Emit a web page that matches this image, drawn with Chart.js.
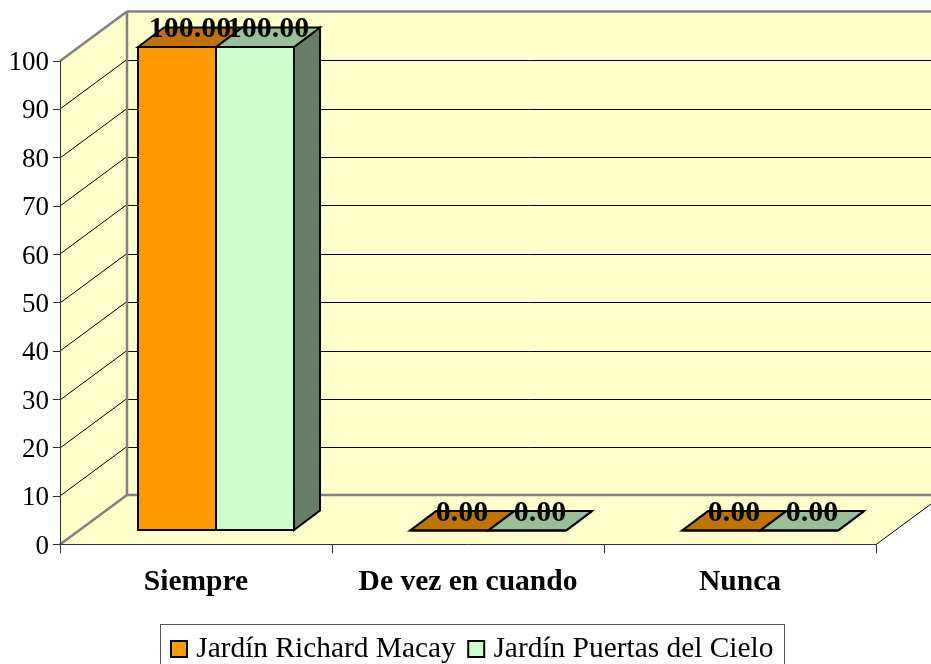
<!DOCTYPE html>
<html>
<head>
<meta charset="utf-8">
<style>html,body{margin:0;padding:0;background:#fff}canvas{display:block}</style>
<script src="https://cdn.jsdelivr.net/npm/chart.js@4"></script>
</head>
<body>
<canvas id="c" width="931" height="664"></canvas>
<script>
const categories = ['Siempre', 'De vez en cuando', 'Nunca'];
const richardMacay = [100, 0, 0];
const puertasDelCielo = [100, 0, 0];
const seriesNames = ['Jardín Richard Macay', 'Jardín Puertas del Cielo'];
const yTicks = [0, 10, 20, 30, 40, 50, 60, 70, 80, 90, 100];

const SERIF = '"Liberation Serif", "Times New Roman", serif';
const WALL = '#FFFFCC', EDGE = '#808080', AXIS = '#333333';
const DEPTH_X = 67, DEPTH_Y = 49.5;       // room depth
const BAR_X = 20, BAR_Y = 14;             // bars sit inside the room
const CAP_X = 26, CAP_Y = 19.5;           // depth of each bar
const faces = [
  {front: '#FF9900', top: '#BF7300', side: '#BF7300'},
  {front: '#CCFFCC', top: '#99BF99', side: '#667F66'}
];

function poly(ctx, pts, fill, stroke, lw) {
  ctx.beginPath();
  pts.forEach((p, i) => i ? ctx.lineTo(p[0], p[1]) : ctx.moveTo(p[0], p[1]));
  ctx.closePath();
  if (fill) { ctx.fillStyle = fill; ctx.fill(); }
  if (stroke) { ctx.strokeStyle = stroke; ctx.lineWidth = lw; ctx.stroke(); }
}
function line(ctx, x1, y1, x2, y2, color, lw) {
  ctx.beginPath(); ctx.moveTo(x1, y1); ctx.lineTo(x2, y2);
  ctx.strokeStyle = color; ctx.lineWidth = lw; ctx.stroke();
}

const room = {
  id: 'room',
  afterLayout(chart) {
    const lg = chart.legend;
    const h = lg.height;
    lg.left = 158.5; lg.right = 931;
    lg.top = 645 - h / 2; lg.bottom = lg.top + h;
    chart.scales.y.getLabelItems().forEach(it => { it.options.translation[1] += 2; });
  },
  beforeDraw(chart) {
    const {ctx, chartArea: a, scales: {y}, width} = chart;
    const bx = a.left + DEPTH_X, dy = DEPTH_Y;
    const top = y.getPixelForValue(100), bot = y.getPixelForValue(0);
    const far = width + 20;
    ctx.save();
    poly(ctx, [[bx, top - dy], [far, top - dy], [far, bot - dy], [bx, bot - dy]], WALL);
    poly(ctx, [[a.left, top], [bx, top - dy], [bx, bot - dy], [a.left, bot]], WALL);
    poly(ctx, [[a.left, bot], [bx, bot - dy], [far, bot - dy], [a.right + DEPTH_X, bot - dy], [a.right, bot]], WALL);
    yTicks.slice(1, -1).forEach(v => {
      const p = Math.round(y.getPixelForValue(v));
      line(ctx, a.left, p, bx, p - dy, '#000', 1);
      line(ctx, bx, Math.round(p - dy) + .5, far, Math.round(p - dy) + .5, '#000', 1);
    });
    line(ctx, a.left, top, bx, top - dy, EDGE, 2.5);
    line(ctx, bx, top - dy, far, top - dy, EDGE, 2.5);
    line(ctx, bx, top - dy, bx, bot - dy, EDGE, 2.5);
    line(ctx, bx, bot - dy, far, bot - dy, EDGE, 2.5);
    line(ctx, a.left, bot, bx, bot - dy, EDGE, 2.5);
    line(ctx, a.right, bot, a.right + DEPTH_X, bot - dy, '#000', 1);
    ctx.restore();
  },
  beforeDatasetDraw(chart) {
    chart.ctx.save();
    chart.ctx.translate(BAR_X, -BAR_Y);
  },
  afterDatasetDraw(chart, args) {
    const {ctx} = chart, i = args.index;
    chart.getDatasetMeta(i).data.forEach(el => {
      const L = el.x - el.width / 2, R = el.x + el.width / 2, T = el.y, B = el.base;
      if (i === 1) {
        poly(ctx, [[R, T], [R + CAP_X, T - CAP_Y], [R + CAP_X, B - CAP_Y], [R, B]], faces[i].side, '#000', 2);
      }
      poly(ctx, [[L, T], [L + CAP_X, T - CAP_Y], [R + CAP_X, T - CAP_Y], [R, T]], faces[i].top, '#000', 2);
      poly(ctx, [[L, T], [R, T], [R, B], [L, B]], null, '#000', 2);
    });
    ctx.restore();
  },
  afterDatasetsDraw(chart) {
    const {ctx} = chart;
    ctx.save();
    ctx.font = 'bold 30px ' + SERIF;
    ctx.fillStyle = '#000';
    ctx.textAlign = 'center';
    ctx.textBaseline = 'middle';
    chart.data.datasets.forEach((ds, i) => {
      chart.getDatasetMeta(i).data.forEach((el, j) => {
        ctx.fillText(ds.data[j].toFixed(2), el.x + BAR_X + CAP_X / 2, el.y - BAR_Y - CAP_Y + 2);
      });
    });
    ctx.restore();
  },
  afterDraw(chart) {
    const {ctx} = chart;
    ctx.save();
    ctx.strokeStyle = '#555';
    ctx.lineWidth = 1;
    ctx.strokeRect(160.5, 624.5, 624, 60);
    ctx.restore();
  }
};

new Chart(document.getElementById('c'), {
  type: 'bar',
  data: {
    labels: categories,
    datasets: [
      {label: seriesNames[0], data: richardMacay, backgroundColor: faces[0].front, borderColor: '#000', borderWidth: 0, clip: false},
      {label: seriesNames[1], data: puertasDelCielo, backgroundColor: faces[1].front, borderColor: '#000', borderWidth: 0, clip: false}
    ]
  },
  options: {
    responsive: false,
    animation: false,
    devicePixelRatio: 1,
    datasets: {bar: {categoryPercentage: 0.5735, barPercentage: 1}},
    layout: {padding: {top: 61, right: 55, left: 0, bottom: 0}},
    plugins: {
      title: {display: false},
      tooltip: {enabled: false},
      legend: {
        display: true,
        position: 'bottom',
        align: 'start',
        labels: {
          color: '#000',
          font: {family: SERIF, size: 29.4},
          usePointStyle: true,
          boxWidth: 5,
          boxHeight: 16,
          padding: 18,
          generateLabels(chart) {
            return chart.data.datasets.map((d, i) => ({
              text: d.label, fillStyle: d.backgroundColor, strokeStyle: '#000',
              lineWidth: 2, datasetIndex: i, fontColor: '#000', pointStyle: 'rect'
            }));
          }
        }
      }
    },
    scales: {
      x: {
        afterFit(s) { s.height = 62; },
        grid: {offset: true, drawOnChartArea: false, drawTicks: true, tickLength: 9, color: AXIS},
        border: {color: AXIS, width: 1},
        ticks: {color: '#000', font: {family: SERIF, size: 29.5, weight: 'bold'}, padding: 11, maxRotation: 0, autoSkip: false}
      },
      y: {
        min: 0,
        max: 100,
        afterFit(s) { s.width = 60; },
        afterBuildTicks(s) { s.ticks = yTicks.map(v => ({value: v})); },
        grid: {drawOnChartArea: false, drawTicks: true, tickLength: 7, color: AXIS},
        border: {color: AXIS, width: 1},
        ticks: {color: '#000', font: {family: SERIF, size: 27}, padding: 4}
      }
    }
  },
  plugins: [room]
});
</script>
</body>
</html>
